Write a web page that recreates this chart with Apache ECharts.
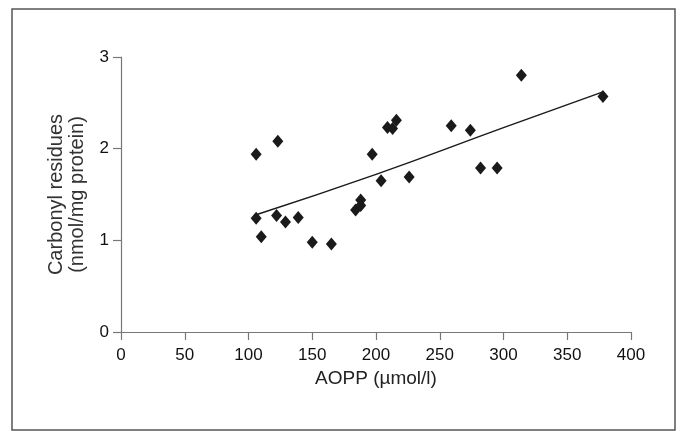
<!DOCTYPE html>
<html>
<head>
<meta charset="utf-8">
<script src="https://cdn.jsdelivr.net/npm/echarts@6/dist/echarts.min.js"></script>
<style>
  html, body { margin: 0; padding: 0; background: #fff; }
  #chart { width: 682px; height: 431px; }
</style>
</head>
<body>
<div id="chart"></div>
<script>
// AOPP vs carbonyl residues
var aopp = [106, 123, 106, 110, 122, 129, 139, 150, 165, 184, 188, 188, 197, 204, 209, 213, 216, 226, 259, 274, 282, 295, 314, 378];
var carbonyl = [1.94, 2.08, 1.24, 1.04, 1.27, 1.20, 1.25, 0.98, 0.96, 1.33, 1.44, 1.38, 1.94, 1.65, 2.23, 2.22, 2.31, 1.69, 2.25, 2.20, 1.79, 1.79, 2.80, 2.57];
// regression line
var fitX = [106, 200, 300, 378];
var fitY = [1.28, 1.72, 2.23, 2.62];
var xTicks = [0, 50, 100, 150, 200, 250, 300, 350, 400];
var yTicks = [0, 1, 2, 3];

var points = aopp.map(function (x, i) { return [x, carbonyl[i]]; });
var fitLine = fitX.map(function (x, i) { return [x, fitY[i]]; });

var axisColor = '#777';
var font = '"Liberation Sans", Arial, sans-serif';

var myChart = echarts.init(document.getElementById('chart'));
var options = {
    animation: false,
    backgroundColor: '#fff',
    grid: {
        left: 121,
        right: 51,
        top: 57,
        bottom: 99
    },
    graphic: [{
        type: 'rect',
        shape: { x: 12, y: 9, width: 663, height: 421 },
        style: { fill: 'none', stroke: '#555', lineWidth: 1.5 },
        silent: true
    }],
    xAxis: {
        type: 'value',
        min: xTicks[0],
        max: xTicks[xTicks.length - 1],
        interval: 50,
        name: 'AOPP (\u00b5mol/l)',
        nameLocation: 'middle',
        nameGap: 29,
        nameTextStyle: { color: '#222', fontSize: 19, fontFamily: font },
        axisLine: { lineStyle: { color: axisColor, width: 1.2 } },
        axisTick: { show: true, length: 8, lineStyle: { color: axisColor, width: 1.2 } },
        axisLabel: { color: '#111', fontSize: 17, fontFamily: font, margin: 15 },
        splitLine: { show: false }
    },
    yAxis: {
        type: 'value',
        min: yTicks[0],
        max: yTicks[yTicks.length - 1],
        interval: 1,
        name: 'Carbonyl residues\n(nmol/mg protein)',
        nameLocation: 'middle',
        nameRotate: 90,
        nameGap: 33,
        nameTextStyle: { color: '#333', fontSize: 20, fontFamily: font, lineHeight: 21 },
        axisLine: { show: true, lineStyle: { color: axisColor, width: 1.2 } },
        axisTick: { show: true, length: 8, lineStyle: { color: axisColor, width: 1.2 } },
        axisLabel: { color: '#111', fontSize: 17, fontFamily: font, margin: 12 },
        splitLine: { show: false }
    },
    series: [{
        type: 'scatter',
        data: points,
        symbol: 'diamond',
        symbolSize: [11, 13],
        itemStyle: { color: '#1a1a1a', opacity: 1 },
        z: 3
    }, {
        type: 'line',
        data: fitLine,
        smooth: true,
        symbol: 'none',
        lineStyle: { color: '#1a1a1a', width: 1.5 },
        z: 2
    }]
};
myChart.setOption(options);
window.addEventListener('resize', myChart.resize);
</script>
</body>
</html>
